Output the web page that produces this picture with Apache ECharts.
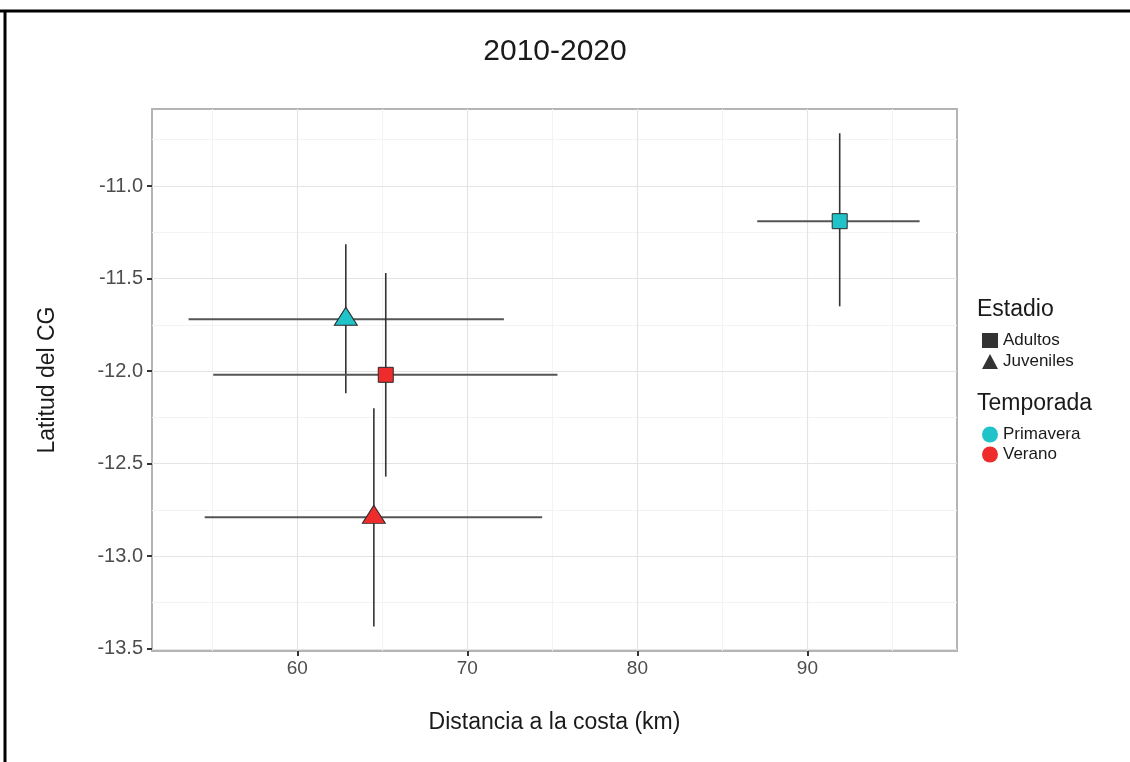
<!DOCTYPE html>
<html>
<head>
<meta charset="utf-8">
<script src="https://cdn.jsdelivr.net/npm/echarts@6/dist/echarts.min.js"></script>
<style>
  html, body { margin: 0; padding: 0; background: #ffffff; }
  #chart { width: 1130px; height: 762px; }
</style>
</head>
<body>
<div id="chart"></div>
<script>
// Centre of gravity per season and life stage, with spread bars
const seasons = ['Primavera', 'Verano'];
const stages = ['Adultos', 'Juveniles'];

const pointSeason = ['Primavera', 'Primavera', 'Verano', 'Verano'];
const pointStage = ['Adultos', 'Juveniles', 'Adultos', 'Juveniles'];

// Distance to the coast (km)
const distMean = [91.9, 62.85, 65.2, 64.5];
const distLow = [87.05, 53.6, 55.05, 54.55];
const distHigh = [96.6, 72.15, 75.3, 74.4];

// Latitude of the centre of gravity
const latMean = [-11.19, -11.72, -12.02, -12.79];
const latLow = [-11.65, -12.12, -12.57, -13.38];
const latHigh = [-10.715, -11.315, -11.47, -12.2];

// Axis ticks and grid
const xTicks = [60, 70, 80, 90];
const xMinor = [55, 65, 75, 85, 95];
const yTicks = [-13.5, -13.0, -12.5, -12.0, -11.5, -11.0];
const yMinor = [-13.25, -12.75, -12.25, -11.75, -11.25, -10.75];

const seasonColor = { Primavera: '#1fc3c8', Verano: '#ee2c2c' };
const stageSymbol = { Adultos: 'rect', Juveniles: 'triangle' };

const FONT = '"Liberation Sans", Arial, sans-serif';

const chart = echarts.init(document.getElementById('chart'), null, { renderer: 'canvas' });

// Grid lines drawn through the axes' own scales
const gridLines = [];
xMinor.forEach(v => gridLines.push({ xAxis: v, lineStyle: { color: '#f3f3f3', width: 1, type: 'solid' } }));
yMinor.forEach(v => gridLines.push({ yAxis: v, lineStyle: { color: '#f3f3f3', width: 1, type: 'solid' } }));
xTicks.forEach(v => gridLines.push({ xAxis: v, lineStyle: { color: '#e4e4e4', width: 1.2, type: 'solid' } }));
yTicks.forEach(v => gridLines.push({ yAxis: v, lineStyle: { color: '#e4e4e4', width: 1.2, type: 'solid' } }));

const barRows = distMean.map((d, i) => [d, latMean[i], distLow[i], distHigh[i], latLow[i], latHigh[i]]);

function seasonPoints(season) {
  const out = [];
  pointSeason.forEach((s, i) => {
    if (s !== season) return;
    const tri = pointStage[i] === 'Juveniles';
    out.push({
      value: [distMean[i], latMean[i]],
      symbol: stageSymbol[pointStage[i]],
      symbolSize: tri ? [23, 18] : [15, 15],
      symbolOffset: tri ? [0, -3] : [0, 0]
    });
  });
  return out;
}

const option = {
  backgroundColor: '#ffffff',
  animation: false,
  textStyle: { fontFamily: FONT },
  grid: {
    left: 152, top: 109, right: 173, bottom: 111,
    show: true, borderColor: '#b4b4b4', borderWidth: 2, backgroundColor: '#ffffff'
  },
  xAxis: {
    type: 'value',
    min: 51.45, max: 98.8,
    name: 'Distancia a la costa (km)',
    nameLocation: 'middle',
    nameGap: 60,
    nameTextStyle: { fontSize: 23, color: '#1a1a1a', fontFamily: FONT },
    axisLine: { show: false },
    axisTick: { show: true, customValues: xTicks, length: 5, lineStyle: { color: '#333333', width: 2 } },
    axisLabel: { customValues: xTicks, fontSize: 19, color: '#4d4d4d', margin: 8, fontFamily: FONT },
    splitLine: { show: false }
  },
  yAxis: {
    type: 'value',
    min: -13.512, max: -10.584,
    name: 'Latitud del CG',
    nameLocation: 'middle',
    nameGap: 93,
    nameRotate: 90,
    nameTextStyle: { fontSize: 23, color: '#1a1a1a', fontFamily: FONT },
    axisLine: { show: false },
    axisTick: { show: true, customValues: yTicks, length: 5, lineStyle: { color: '#333333', width: 2 } },
    axisLabel: {
      customValues: yTicks, fontSize: 20, color: '#4d4d4d', margin: 9, fontFamily: FONT,
      formatter: v => v.toFixed(1)
    },
    splitLine: { show: false }
  },
  legend: [
    {
      orient: 'vertical', left: 977, top: 327,
      itemWidth: 16, itemHeight: 15, itemGap: 4,
      selectedMode: false,
      textStyle: { fontSize: 17, color: '#1a1a1a', fontFamily: FONT },
      data: [
        { name: stages[0], icon: 'rect' },
        { name: stages[1], icon: 'triangle' }
      ]
    },
    {
      orient: 'vertical', left: 977, top: 421,
      itemWidth: 16, itemHeight: 16, itemGap: 3,
      selectedMode: false,
      textStyle: { fontSize: 17, color: '#1a1a1a', fontFamily: FONT },
      itemStyle: { borderWidth: 0 },
      data: [
        { name: seasons[0], icon: 'circle' },
        { name: seasons[1], icon: 'circle' }
      ]
    }
  ],
  graphic: [
    {
      type: 'text', x: 555, y: 52,
      style: { text: '2010-2020', font: '30px ' + FONT, fill: '#1a1a1a', textAlign: 'center', textVerticalAlign: 'middle' }
    },
    {
      type: 'text', x: 977, y: 310,
      style: { text: 'Estadio', font: '23px ' + FONT, fill: '#1a1a1a', textAlign: 'left', textVerticalAlign: 'middle' }
    },
    {
      type: 'text', x: 977, y: 404,
      style: { text: 'Temporada', font: '23px ' + FONT, fill: '#1a1a1a', textAlign: 'left', textVerticalAlign: 'middle' }
    },
    { type: 'line', shape: { x1: 0, y1: 11, x2: 1130, y2: 11 }, style: { stroke: '#000000', lineWidth: 3 } },
    { type: 'line', shape: { x1: 5, y1: 10, x2: 5, y2: 762 }, style: { stroke: '#000000', lineWidth: 3 } }
  ],
  series: [
    {
      name: 'grid',
      type: 'custom',
      data: [],
      renderItem: () => null,
      silent: true,
      z: 0,
      markLine: {
        silent: true, symbol: 'none', label: { show: false }, animation: false,
        z: 0,
        emphasis: { disabled: true },
        data: gridLines
      }
    },
    {
      name: 'bars',
      type: 'custom',
      silent: true,
      z: 10,
      data: barRows,
      renderItem: function (params, api) {
        const c = api.coord([api.value(0), api.value(1)]);
        const xl = api.coord([api.value(2), api.value(1)]);
        const xh = api.coord([api.value(3), api.value(1)]);
        const yl = api.coord([api.value(0), api.value(4)]);
        const yh = api.coord([api.value(0), api.value(5)]);
        return {
          type: 'group',
          children: [
            { type: 'line', shape: { x1: xl[0], y1: c[1], x2: xh[0], y2: c[1] }, style: { stroke: '#555555', lineWidth: 2 } },
            { type: 'line', shape: { x1: c[0], y1: yl[1], x2: c[0], y2: yh[1] }, style: { stroke: '#333333', lineWidth: 1.6 } }
          ]
        };
      }
    },
    {
      name: seasons[0], type: 'scatter', z: 12,
      itemStyle: { color: seasonColor.Primavera, borderColor: '#2a2a2a', borderWidth: 1, opacity: 1 },
      data: seasonPoints(seasons[0])
    },
    {
      name: seasons[1], type: 'scatter', z: 12,
      itemStyle: { color: seasonColor.Verano, borderColor: '#2a2a2a', borderWidth: 1, opacity: 1 },
      data: seasonPoints(seasons[1])
    },
    { name: stages[0], type: 'scatter', data: [], itemStyle: { color: '#000000' } },
    { name: stages[1], type: 'scatter', data: [], itemStyle: { color: '#000000' } }
  ]
};

chart.setOption(option);
</script>
</body>
</html>
